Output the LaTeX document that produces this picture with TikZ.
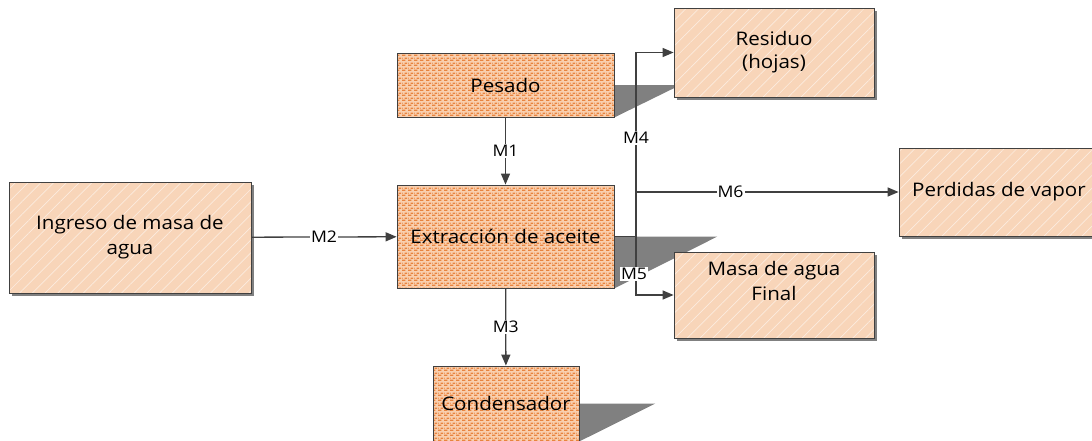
\documentclass[tikz,border=0pt]{standalone}
\usepackage{fontspec}
\setmainfont{Open Sans}[FakeStretch=1.1]
\usetikzlibrary{arrows.meta,patterns,patterns.meta,shadows}
\pgfdeclarelayer{background}
\pgfsetlayers{background,main}

\definecolor{peach}{HTML}{F8D5B9}
\definecolor{darkpeach}{HTML}{F9CFAE}
\definecolor{dotorange}{HTML}{E8843F}
\definecolor{linegray}{HTML}{404040}
\definecolor{shadowgray}{HTML}{808080}

\tikzdeclarepattern{
 name=brickdots,
 type=uncolored,
 bounding box={(0,0) and (6pt,5pt)},
 tile size={(6pt,5pt)},
 code={
  \fill (0,0) rectangle (3.8pt,1.6pt);
  \fill (3pt,2.5pt) rectangle (6pt,4.1pt);
  \fill (0pt,2.5pt) rectangle (0.8pt,4.1pt);
 }
}

\tikzset{
 boxfont/.style={font=\fontsize{18.7}{25}\selectfont},
 lightbox/.style={draw=linegray, line width=0.8pt,
   drop shadow={shadow xshift=3pt, shadow yshift=-3pt, fill=shadowgray, opacity=1},
   preaction={fill=peach},
   preaction={pattern={Lines[angle=45,distance=9pt,line width=0.7pt]}, pattern color=white!55!peach},
   boxfont, align=center, inner sep=0pt},
 darkbox/.style={draw=linegray, line width=0.8pt,
   preaction={fill=darkpeach},
   preaction={pattern=brickdots, pattern color=dotorange},
   boxfont, align=center, inner sep=0pt},
 conn/.style={draw=linegray, line width=1.3pt, -{Triangle[length=11pt,width=9pt]}},
 plainline/.style={draw=linegray, line width=1.3pt},
 lab/.style={fill=white, inner sep=1pt, font=\fontsize{16}{18}\selectfont, text=black},
 shadowfill/.style={fill=shadowgray}
}

\begin{document}
\begin{tikzpicture}[x=1pt,y=-1pt]
\useasboundingbox (0,0) rectangle (1092,440);

% boxes
\node[lightbox, minimum width=242pt, minimum height=111pt] (ingreso) at (130,237.5) {Ingreso de masa de\\agua};
\node[darkbox, minimum width=217pt, minimum height=64pt] (pesado) at (505.5,85) {Pesado};
\node[darkbox, minimum width=217pt, minimum height=103pt] (extr) at (505.5,236.5) {Extracción de aceite};
\node[darkbox, minimum width=146pt, minimum height=75pt] (cond) at (506,403.5) {Condensador};
\node[lightbox, minimum width=200pt, minimum height=89pt, font=\fontsize{18.7}{23}\selectfont] (residuo) at (774,52.5) {Residuo\\(hojas)};
\node[lightbox, minimum width=200pt, minimum height=88pt] (perdidas) at (999,192) {Perdidas de vapor};
\node[lightbox, minimum width=200pt, minimum height=86pt] (masa) at (774,295) {};
\node[boxfont, align=center, inner sep=0pt] (masat) at (774,281) {Masa de agua\\Final};

% shadows of the process boxes
\begin{pgfonlayer}{background}
\fill[shadowfill] (pesado.east) -- ++(66,0) -- (pesado.south east) -- cycle;
\fill[shadowfill] (extr.east) -- ++(103,0) -- (extr.south east) -- cycle;
\fill[shadowfill] (cond.east) -- ++(76,0) -- (cond.south east) -- cycle;
\end{pgfonlayer}

% connectors
\draw[conn] (pesado) -- node[lab] (m1) {M1} (extr);
\draw[conn] (ingreso) -- node[lab] (m2) {M2} (extr);
\draw[conn] (extr) -- node[lab] (m3) {M3} (cond);

\coordinate (jx) at (636,0);
\coordinate (J) at (extr.east -| jx);
\draw[plainline] (extr.east) -- (J);
\draw[conn] (J) |- (residuo.west);
\draw[conn] (J) |- (masa.west);
\draw[conn] (J |- perdidas.west) -- node[lab, pos=0.36] (m6) {M6} (perdidas.west);

\node[lab] (m4) at (636,138) {M4};
\node[lab] (m5) at (634,274) {M5};
\end{tikzpicture}
\end{document}
